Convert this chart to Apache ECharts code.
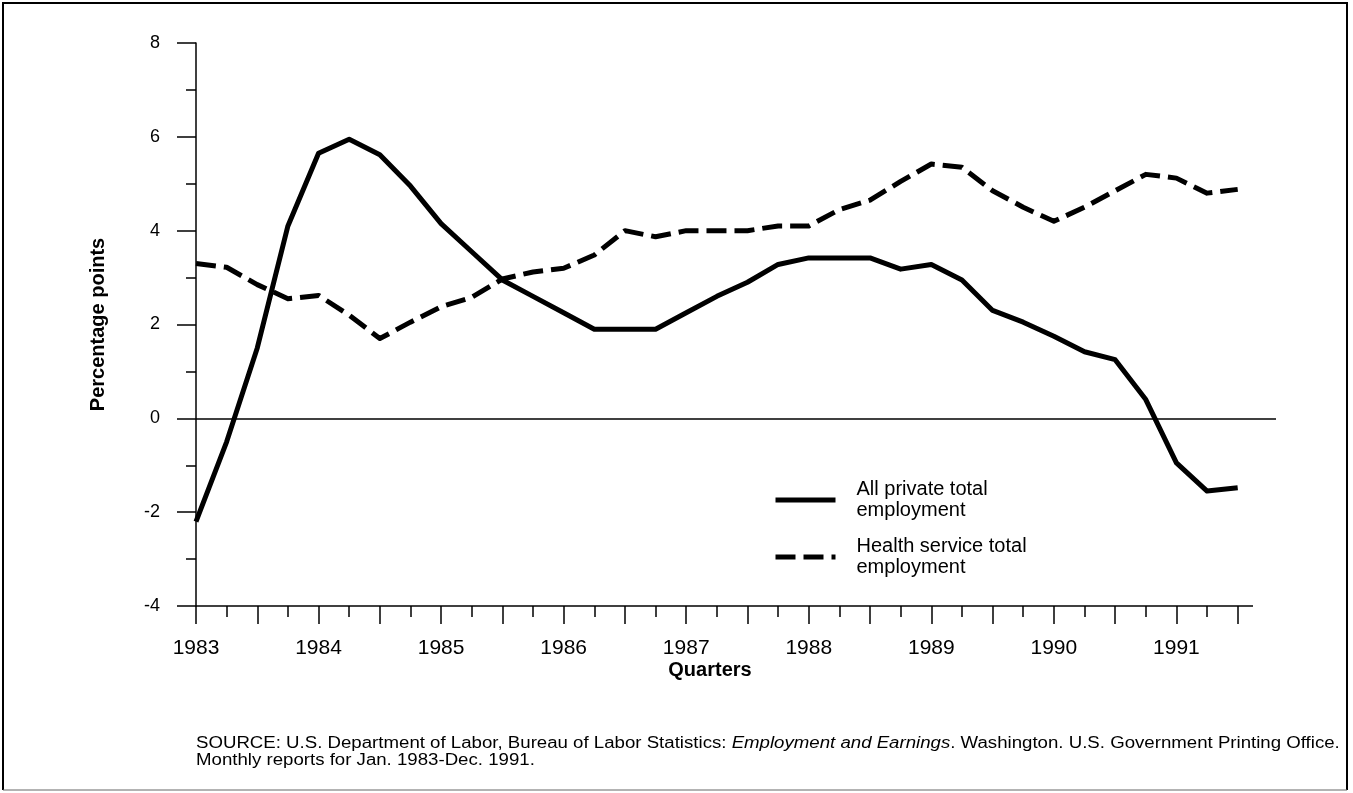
<!DOCTYPE html>
<html><head><meta charset="utf-8">
<script src="https://cdn.jsdelivr.net/npm/echarts@6/dist/echarts.min.js"></script>
<style>html,body{margin:0;padding:0;background:#fff}#c{width:1353px;height:793px}</style>
</head><body><div id="c"></div>
<script>
const quarterLabels = ['1983 Q1','1983 Q2','1983 Q3','1983 Q4','1984 Q1','1984 Q2','1984 Q3','1984 Q4',
  '1985 Q1','1985 Q2','1985 Q3','1985 Q4','1986 Q1','1986 Q2','1986 Q3','1986 Q4',
  '1987 Q1','1987 Q2','1987 Q3','1987 Q4','1988 Q1','1988 Q2','1988 Q3','1988 Q4',
  '1989 Q1','1989 Q2','1989 Q3','1989 Q4','1990 Q1','1990 Q2','1990 Q3','1990 Q4',
  '1991 Q1','1991 Q2','1991 Q3'];
const yearLabels = ['1983','1984','1985','1986','1987','1988','1989','1990','1991'];
const privateEmp = [-2.2,-0.5,1.5,4.1,5.65,5.95,5.62,4.95,4.15,3.55,2.95,2.6,2.25,1.9,1.9,1.9,
  2.25,2.6,2.9,3.28,3.42,3.42,3.42,3.18,3.28,2.95,2.3,2.05,1.75,1.42,1.25,0.4,-0.95,-1.55,-1.48];
const healthEmp = [3.3,3.22,2.85,2.55,2.62,2.2,1.7,2.05,2.38,2.58,2.97,3.12,3.2,3.48,4.0,3.87,
  4.0,4.0,4.0,4.1,4.1,4.45,4.65,5.05,5.42,5.35,4.85,4.5,4.2,4.5,4.85,5.2,5.12,4.8,4.88];
const seriesNames = ['All private total\nemployment','Health service total\nemployment'];
const yAxisTitle = 'Percentage points';
const xAxisTitle = 'Quarters';
const sourceLines = ['SOURCE: U.S. Department of Labor, Bureau of Labor Statistics: {i|Employment and Earnings}. Washington. U.S. Government Printing Office.',
  'Monthly reports for Jan. 1983-Dec. 1991.'];

const FONT = '"Liberation Sans", Arial, Helvetica, sans-serif';
const toPairs = arr => arr.map((v, i) => [i, v]);
const allTicks = quarterLabels.map((q, i) => i);
const halfYearTicks = allTicks.filter(i => i % 2 === 0);
const yearTicks = allTicks.filter(i => i % 4 === 0);
const lastQ = quarterLabels.length - 1;

const chart = echarts.init(document.getElementById('c'), null, {renderer: 'canvas'});
const xBase = {
  type: 'value', min: 0, max: lastQ + 1.25, position: 'bottom',
  axisLine: {show: false, onZero: false}, splitLine: {show: false}
};
chart.setOption({
  animation: false,
  backgroundColor: '#fff',
  textStyle: {fontFamily: FONT},
  grid: {left: 196, right: 77, top: 43, bottom: 187},
  xAxis: [
    Object.assign({}, xBase, {
      axisTick: {show: true, customValues: allTicks, length: 11, lineStyle: {color: '#000', width: 1.5}},
      axisLabel: {show: false}
    }),
    Object.assign({}, xBase, {
      axisTick: {show: true, customValues: halfYearTicks, length: 18, lineStyle: {color: '#000', width: 1.5}},
      axisLabel: {show: true, customValues: yearTicks, formatter: v => yearLabels[Math.round(v / 4)],
        margin: 32, fontSize: 21, color: '#000', fontFamily: FONT}
    })
  ],
  yAxis: {
    type: 'value', min: -4, max: 8, interval: 2,
    axisLine: {show: true, onZero: false, lineStyle: {color: '#000', width: 1.5}},
    axisTick: {show: true, length: 19, lineStyle: {color: '#000', width: 1.5}},
    minorTick: {show: true, splitNumber: 2, length: 10, lineStyle: {color: '#000', width: 1.5}},
    splitLine: {show: false}, minorSplitLine: {show: false},
    axisLabel: {margin: 36, fontSize: 18, color: '#000', fontFamily: FONT},
    name: yAxisTitle, nameLocation: 'middle', nameRotate: 90, nameGap: 88,
    nameTextStyle: {fontSize: 20, fontWeight: 'bold', color: '#000', fontFamily: FONT}
  },
  legend: {
    orient: 'vertical', left: 773, top: 479, padding: 0,
    itemWidth: 60, itemHeight: 14, itemGap: 15, selectedMode: false,
    itemStyle: {opacity: 0},
    lineStyle: {width: 5},
    textStyle: {fontSize: 20, lineHeight: 21, color: '#000', fontFamily: FONT, padding: [0, 0, 0, 16]},
    data: seriesNames
  },
  series: [
    {
      name: seriesNames[0], type: 'line', xAxisIndex: 0, data: toPairs(privateEmp),
      symbol: 'none', color: '#000',
      lineStyle: {color: '#000', width: 5, type: 'solid', join: 'round'},
      markLine: {
        silent: true, symbol: 'none', label: {show: false}, animation: false,
        data: [
          {yAxis: 0, lineStyle: {color: '#000', width: 1.5, type: 'solid'}},
          [{coord: [0, -4], lineStyle: {color: '#000', width: 1.5, type: 'solid'}}, {coord: [lastQ + 0.5, -4]}]
        ]
      },
      z: 3
    },
    {
      name: seriesNames[1], type: 'line', xAxisIndex: 0, data: toPairs(healthEmp),
      symbol: 'none', color: '#000',
      lineStyle: {color: '#000', width: 5, type: [20, 8], join: 'round'},
      z: 3
    }
  ],
  graphic: [
    {type: 'polyline', shape: {points: [[3, 790], [3, 3], [1347, 3], [1347, 790]]},
      style: {stroke: '#000', lineWidth: 2, fill: null}, silent: true},
    {type: 'line', shape: {x1: 3, y1: 790, x2: 1347, y2: 790},
      style: {stroke: '#666', lineWidth: 1}, silent: true},
    {type: 'text', x: 710, y: 670, silent: true,
      style: {text: xAxisTitle, fill: '#000', font: 'bold 20px ' + FONT, textAlign: 'center', textVerticalAlign: 'middle'}},
    {type: 'text', x: 196, y: 735, scaleX: 1.165, silent: true,
      style: {text: sourceLines.join('\n'), fill: '#000', fontSize: 16, fontFamily: FONT, lineHeight: 17,
        rich: {i: {fontStyle: 'italic', fontSize: 16, fontFamily: FONT, fill: '#000', lineHeight: 17}}}}
  ]
});
</script>
</body></html>
